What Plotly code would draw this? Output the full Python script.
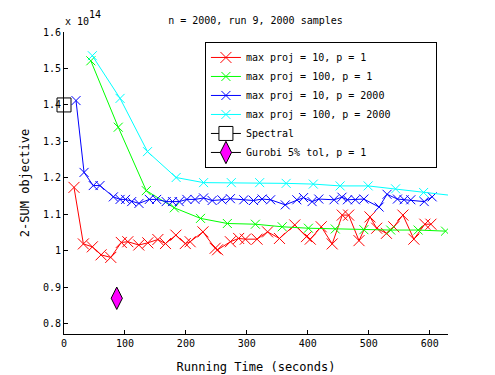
import plotly.graph_objects as go

# values in units of 1e14
red_x = [16.4, 31.8, 46.5, 60.8, 76.7, 94, 104.7, 122.7, 137.5, 154, 166.5, 183.6, 199, 207,
         228, 248, 252, 273, 286.5, 297.6, 316.7, 334, 353.5, 378.6, 397.8, 404, 422, 440,
         456.5, 467, 484, 502, 513, 529, 541, 556, 574, 592, 602]
red_y = [1.174, 1.019, 1.011, 0.989, 0.982, 1.023, 1.025, 1.016, 1.022, 1.031, 1.020, 1.043, 1.020, 1.025,
         1.052, 1.007, 1.003, 1.025, 1.034, 1.032, 1.032, 1.052, 1.034, 1.071, 1.039, 1.032, 1.066, 1.019,
         1.098, 1.098, 1.028, 1.093, 1.062, 1.048, 1.066, 1.098, 1.032, 1.073, 1.073]

green_x = [44, 89, 135, 181, 224, 268, 314, 358, 401, 445, 492, 536, 581, 626]
green_y = [1.521, 1.339, 1.165, 1.118, 1.089, 1.075, 1.073, 1.066, 1.062, 1.060, 1.058, 1.057, 1.057, 1.054]

blue_x = [19.7, 32.9, 48, 59, 81, 92, 101, 111, 123, 140, 152, 167.6, 178, 189, 201.6,
          215, 229, 243, 259, 273, 295, 311, 325, 339, 363, 382, 393, 407, 418, 443,
          456, 465, 478, 492, 517, 530, 547, 558, 569, 591, 604]
blue_y = [1.412, 1.215, 1.179, 1.179, 1.148, 1.141, 1.141, 1.135, 1.130, 1.141, 1.141, 1.135, 1.135, 1.135, 1.141,
          1.141, 1.145, 1.138, 1.140, 1.143, 1.140, 1.138, 1.142, 1.140, 1.126, 1.140, 1.146, 1.135, 1.142, 1.140,
          1.147, 1.140, 1.140, 1.142, 1.120, 1.155, 1.142, 1.140, 1.140, 1.135, 1.148]

cyan_x = [46.5, 92, 137, 184, 229, 274.5, 321, 364.5, 409, 453, 499, 544, 590, 635]
cyan_y = [1.535, 1.418, 1.272, 1.201, 1.187, 1.187, 1.187, 1.185, 1.183, 1.178, 1.178, 1.170, 1.160, 1.152]

spectral_x = [0]
spectral_y = [1.40]
gurobi_x = [86.6]
gurobi_y = [0.870]

y_ticks = [0.8, 0.9, 1.0, 1.1, 1.2, 1.3, 1.4, 1.5, 1.6]
y_ticktext = ["0.8", "0.9", "1", "1.1", "1.2", "1.3", "1.4", "1.5", "1.6"]
x_ticks = [0, 100, 200, 300, 400, 500, 600]

FONT = "DejaVu Sans Mono"

fig = go.Figure()


def add_series(x, y, color, name, size=9):
    fig.add_trace(go.Scatter(
        x=x, y=y, name=name, mode="lines+markers",
        line=dict(color=color, width=1),
        marker=dict(symbol="x-thin-open", size=size, color=color,
                    line=dict(color=color, width=1)),
    ))


add_series(red_x, red_y, "#ff0000", "max proj = 10, p = 1", size=11)
add_series(green_x, green_y, "#00ff00", "max proj = 100, p = 1")
add_series(blue_x, blue_y, "#0000ff", "max proj = 10, p = 2000")
add_series(cyan_x, cyan_y, "#00ffff", "max proj = 100, p = 2000")

fig.add_trace(go.Scatter(
    x=spectral_x, y=spectral_y, name="Spectral", mode="lines+markers",
    line=dict(color="black", width=1),
    marker=dict(symbol="square", size=14, color="white",
                line=dict(color="black", width=1)),
    cliponaxis=False,
))
fig.add_trace(go.Scatter(
    x=gurobi_x, y=gurobi_y, name="Gurobi 5% tol, p = 1", mode="lines+markers",
    line=dict(color="black", width=1),
    marker=dict(symbol="diamond-tall", size=16, color="#ff00ff",
                line=dict(color="black", width=1)),
))

# page has an 8px body margin, so margins are shifted by that much
fig.update_layout(
    width=495, height=375,
    paper_bgcolor="white", plot_bgcolor="white",
    font=dict(family=FONT, size=10, color="black"),
    margin=dict(l=56, r=55, t=24, b=49, autoexpand=False),
    title=dict(text="n = 2000, run 9, 2000 samples", x=0.5, xanchor="center",
               y=0.968, yanchor="middle", font=dict(size=10)),
    showlegend=True,
    legend=dict(x=0.367, y=0.967, xanchor="left", yanchor="top",
                orientation="h", entrywidth=185,
                bgcolor="white", bordercolor="black", borderwidth=1,
                font=dict(size=10), tracegroupgap=0),
    xaxis=dict(range=[0, 630], tickvals=x_ticks, ticks="inside", ticklen=4,
               tickcolor="black", showline=True, linecolor="black", linewidth=1,
               showgrid=False, zeroline=False, mirror=False, automargin=False,
               title=dict(text="Running Time (seconds)", standoff=14)),
    yaxis=dict(range=[0.772, 1.6], tickvals=y_ticks, ticktext=y_ticktext,
               ticks="inside", ticklen=4, tickcolor="black", showline=True,
               linecolor="black", linewidth=1, showgrid=False, zeroline=False,
               mirror=False, automargin=False,
               title=dict(text="2-SUM objective", standoff=10)),
    annotations=[
        dict(text="x 10", x=0, y=1, xref="paper", yref="paper",
             xanchor="left", yanchor="middle", xshift=-1, yshift=11,
             showarrow=False, font=dict(size=10)),
        dict(text="14", x=0, y=1, xref="paper", yref="paper",
             xanchor="left", yanchor="middle", xshift=23, yshift=18,
             showarrow=False, font=dict(size=10)),
    ],
)

fig.write_html("out.html")
